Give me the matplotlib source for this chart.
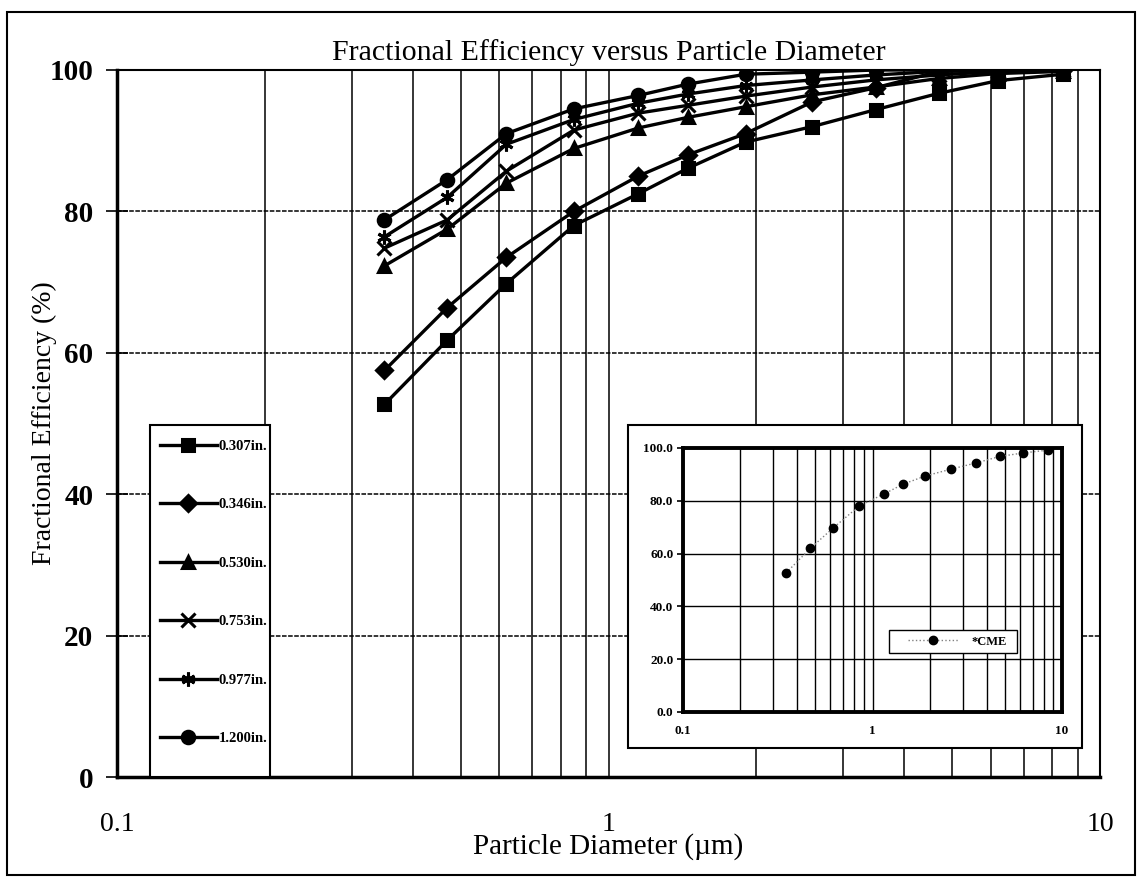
import numpy as np
import matplotlib
matplotlib.use("Agg")
import matplotlib.pyplot as plt
from matplotlib.patches import Rectangle
from matplotlib.ticker import LogLocator, FixedLocator, NullFormatter

plt.rcParams['font.family'] = ['Liberation Serif', 'DejaVu Serif']

# particle diameters (um)
diam = [0.35, 0.47, 0.62, 0.85, 1.15, 1.45, 1.9, 2.6, 3.5, 4.7, 6.2, 8.4]

# fractional efficiency (%) for each thickness
eff_0307 = [52.7, 61.8, 69.8, 78.0, 82.5, 86.1, 89.8, 92.0, 94.4, 96.7, 98.5, 99.4]
eff_0346 = [57.5, 66.4, 73.5, 80.0, 85.0, 88.0, 91.0, 95.5, 97.5, 99.8, 100.0, 100.0]
eff_0530 = [72.3, 77.5, 84.0, 88.9, 91.8, 93.3, 94.8, 96.5, 97.6, 98.8, 99.5, 99.8]
eff_0753 = [74.8, 78.8, 85.7, 91.5, 93.9, 95.0, 96.3, 97.6, 98.6, 99.3, 99.8, 100.0]
eff_0977 = [76.4, 82.0, 89.5, 93.0, 95.3, 96.6, 97.8, 98.6, 99.3, 99.8, 100.0, 100.0]
eff_1200 = [78.8, 84.5, 91.0, 94.5, 96.4, 98.0, 99.4, 99.7, 100.0, 100.0, 100.0, 100.0]

labels = ['0.307in.', '0.346in.', '0.530in.', '0.753in.', '0.977in.', '1.200in.']
markers = ['s', 'D', '^', 'x', (6, 2, 0), 'o']

# inset (CME) data
cme = [52.7, 62.0, 69.7, 78.0, 82.6, 86.3, 89.4, 92.0, 94.3, 96.8, 98.1, 99.2]

W, H = 1141, 883
fig = plt.figure(figsize=(W / 100, H / 100), dpi=100)

ax = fig.add_axes([117 / W, 1 - 777 / H, 983 / W, 707 / H])
ax.set_xscale('log')
ax.set_xlim(0.1, 10)
ax.set_ylim(0, 100)

series = [eff_0307, eff_0346, eff_0530, eff_0753, eff_0977, eff_1200]
for y, lab, m in zip(series, labels, markers):
    ms = 10 if m in ('x', (6, 2, 0)) else 9
    if m == 'D':
        ms = 8
    ax.plot(diam, y, color='black', lw=2.4, marker=m, ms=ms, mew=2.2,
            mfc='black', mec='black', label=lab, zorder=3)

# grid
ax.xaxis.set_major_locator(FixedLocator([0.1, 1, 10]))
ax.xaxis.set_minor_locator(LogLocator(base=10, subs=np.arange(2, 10)))
ax.xaxis.set_minor_formatter(NullFormatter())
ax.set_xticklabels(['0.1', '1', '10'])
ax.set_yticks([0, 20, 40, 60, 80, 100])
ax.grid(True, which='both', axis='x', color='black', lw=1.1)
ax.grid(True, which='major', axis='y', color='black', lw=1.1, ls=(0, (3, 1)))
ax.tick_params(axis='x', which='both', length=0, labelsize=20, pad=25)
ax.tick_params(axis='y', which='major', direction='inout', length=16, width=1.2,
               labelsize=21, pad=9)
for t in ax.get_yticklabels():
    t.set_fontweight('bold')
for s in ['left', 'bottom']:
    ax.spines[s].set_linewidth(2.5)
for s in ['top', 'right']:
    ax.spines[s].set_linewidth(1.5)

ax.set_title('Fractional Efficiency versus Particle Diameter', fontsize=21.5, pad=7)
ax.set_xlabel('Particle Diameter (\u00b5m)', fontsize=21)
ax.xaxis.set_label_coords(0.5, -0.08)
ax.set_ylabel('Fractional Efficiency (%)', fontsize=20)
ax.yaxis.set_label_coords(-0.061, 0.5)

# legend with its own box
ax.add_patch(Rectangle((0.0336, 0.0), 0.122, 0.498, transform=ax.transAxes,
                       facecolor='white', edgecolor='black', lw=1.5, zorder=4))
leg = ax.legend(loc='upper left', bbox_to_anchor=(0.0437, 0.477), borderaxespad=0,
                prop={'size': 10.5, 'weight': 'bold'}, labelspacing=3.1,
                handlelength=3.9, handletextpad=0.1, borderpad=0,
                frameon=False)
leg.set_zorder(5)

# inset box
fig.patches.append(Rectangle((628 / W, 1 - 748 / H), 454 / W, 323 / H,
                             transform=fig.transFigure, facecolor='white',
                             edgecolor='black', lw=1.5, zorder=1))

ins = fig.add_axes([683 / W, 1 - 712 / H, 379 / W, 264 / H], zorder=2)
ins.set_xscale('log')
ins.set_xlim(0.1, 10)
ins.set_ylim(0, 100)
ins.plot(diam, cme, color='gray', lw=1, ls=':', marker='o', ms=6,
         mfc='black', mec='black', label='*CME', zorder=3)
ins.xaxis.set_major_locator(FixedLocator([0.1, 1, 10]))
ins.xaxis.set_minor_locator(LogLocator(base=10, subs=np.arange(2, 10)))
ins.xaxis.set_minor_formatter(NullFormatter())
ins.set_xticklabels(['0.1', '1', '10'])
ins.set_yticks([0, 20, 40, 60, 80, 100])
ins.set_yticklabels(['0.0', '20.0', '40.0', '60.0', '80.0', '100.0'])
ins.grid(True, which='both', color='black', lw=1.0)
ins.tick_params(axis='x', which='both', length=0, labelsize=9.5, pad=9)
ins.tick_params(axis='y', which='major', length=4, width=1.2, labelsize=9.5, pad=3)
for t in ins.get_xticklabels() + ins.get_yticklabels():
    t.set_fontweight('bold')
for s in ins.spines.values():
    s.set_linewidth(2.8)

# inset legend box
ins.add_patch(Rectangle((0.5435, 0.2235), 0.3375, 0.087, transform=ins.transAxes,
                        facecolor='white', edgecolor='black', lw=1.0, zorder=4))
ileg = ins.legend(loc='center left', bbox_to_anchor=(0.594, 0.267), borderaxespad=0,
                  prop={'size': 9, 'weight': 'bold'}, handlelength=4.0,
                  handletextpad=1.1, borderpad=0, frameon=False)
ileg.set_zorder(5)

# outer frame around the chart
fig.patches.append(Rectangle((7 / W, 1 - 875 / H), 1128 / W, 863 / H,
                             transform=fig.transFigure, fill=False,
                             edgecolor='black', lw=1.5, zorder=0))

fig.savefig('out.png', dpi=100)
